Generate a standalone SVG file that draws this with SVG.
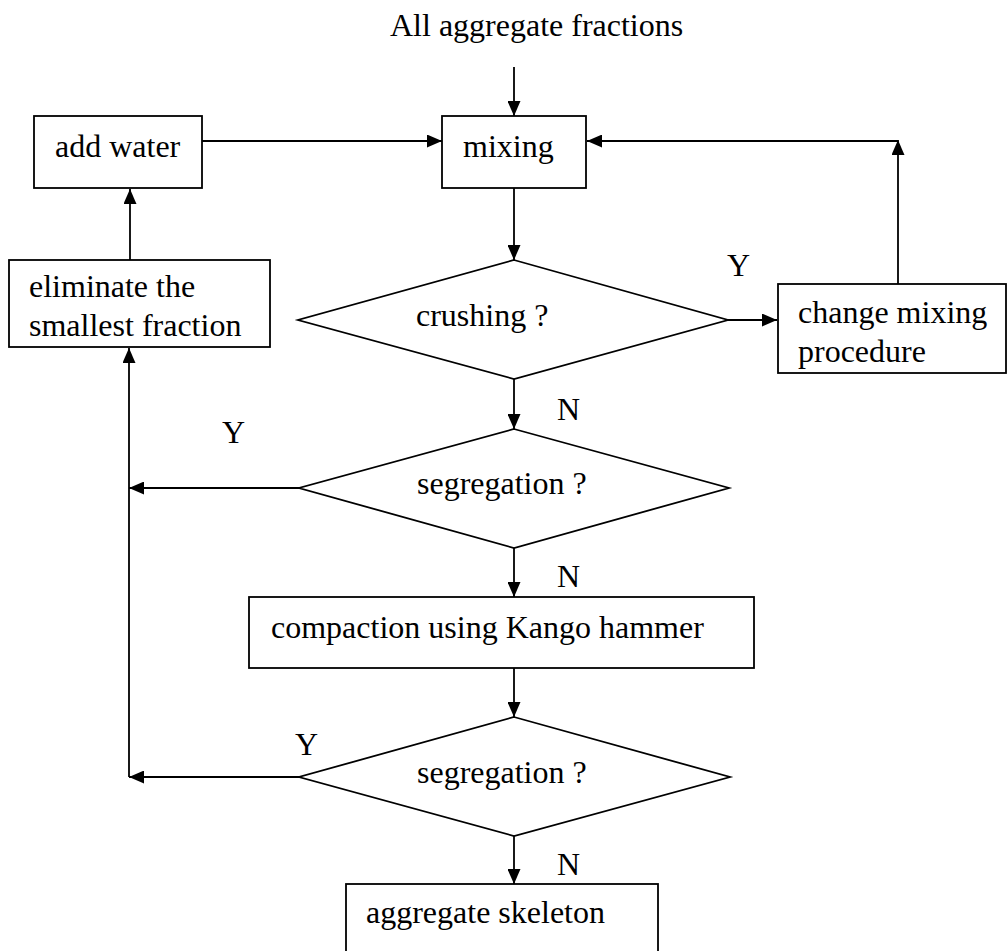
<svg xmlns="http://www.w3.org/2000/svg" width="1007" height="951" viewBox="0 0 1007 951">
  <defs>
    <style>
      .box { fill: #ffffff; stroke: #000000; stroke-width: 1.8; }
      .lbl { font-family: "Liberation Serif", "Times New Roman", serif; font-size: 32px; fill: #000000; }
      .wire { fill: none; stroke: #000000; stroke-width: 1.8; }
    </style>
    <marker id="arrow" viewBox="0 0 15 13" refX="15" refY="6.5" markerWidth="15" markerHeight="13" markerUnits="userSpaceOnUse" orient="auto">
      <path d="M0,0 L15,6.5 L0,13 Z" fill="#000000"/>
    </marker>
  </defs>

  <rect width="1007" height="951" fill="#ffffff"/>

  <!-- heading above the process -->
  <text class="lbl" x="390" y="36">All aggregate fractions</text>

  <!-- connectors -->
  <g id="connectors">
    <line class="wire" x1="514" y1="67" x2="514" y2="116" marker-end="url(#arrow)"/>
    <line class="wire" x1="202" y1="141" x2="442" y2="141" marker-end="url(#arrow)"/>
    <line class="wire" x1="898" y1="141" x2="587" y2="141" marker-end="url(#arrow)"/>
    <line class="wire" x1="898" y1="284" x2="898" y2="140" marker-end="url(#arrow)"/>
    <line class="wire" x1="514" y1="188" x2="514" y2="260" marker-end="url(#arrow)"/>
    <line class="wire" x1="728" y1="320" x2="777" y2="320" marker-end="url(#arrow)"/>
    <line class="wire" x1="130" y1="260" x2="130" y2="189" marker-end="url(#arrow)"/>
    <line class="wire" x1="514" y1="379" x2="514" y2="429" marker-end="url(#arrow)"/>
    <line class="wire" x1="299" y1="488" x2="129" y2="488" marker-end="url(#arrow)"/>
    <line class="wire" x1="129" y1="777" x2="129" y2="348" marker-end="url(#arrow)"/>
    <line class="wire" x1="514" y1="548" x2="514" y2="597" marker-end="url(#arrow)"/>
    <line class="wire" x1="514" y1="668" x2="514" y2="717" marker-end="url(#arrow)"/>
    <line class="wire" x1="299" y1="777" x2="129" y2="777" marker-end="url(#arrow)"/>
    <line class="wire" x1="514" y1="836" x2="514" y2="884" marker-end="url(#arrow)"/>
    <text class="lbl" x="727" y="276">Y</text>
    <text class="lbl" x="557" y="420">N</text>
    <text class="lbl" x="222" y="443">Y</text>
    <text class="lbl" x="557" y="587">N</text>
    <text class="lbl" x="295" y="755">Y</text>
    <text class="lbl" x="557" y="875">N</text>
  </g>

  <g id="add-water">
    <rect class="box" x="34" y="116" width="168" height="72"/>
    <text class="lbl" x="55" y="157">add water</text>
  </g>

  <g id="mixing">
    <rect class="box" x="442" y="116" width="144" height="72"/>
    <text class="lbl" x="463" y="157">mixing</text>
  </g>

  <g id="eliminate">
    <rect class="box" x="9" y="260" width="261" height="87"/>
    <text class="lbl" x="29" y="297">eliminate the</text>
    <text class="lbl" x="29" y="336">smallest fraction</text>
  </g>

  <g id="crushing">
    <polygon class="box" points="514,260 728,320 514,379 298,320"/>
    <text class="lbl" x="416" y="326">crushing ?</text>
  </g>

  <g id="change-mixing">
    <rect class="box" x="778" y="284" width="228" height="89"/>
    <text class="lbl" x="798" y="323">change mixing</text>
    <text class="lbl" x="798" y="362">procedure</text>
  </g>

  <g id="segregation-1">
    <polygon class="box" points="514,429 729,488 514,548 299,488"/>
    <text class="lbl" x="417" y="494">segregation ?</text>
  </g>

  <g id="compaction">
    <rect class="box" x="249" y="597" width="505" height="71"/>
    <text class="lbl" x="271" y="638">compaction using Kango hammer</text>
  </g>

  <g id="segregation-2">
    <polygon class="box" points="514,717 730,777 514,836 299,777"/>
    <text class="lbl" x="417" y="783">segregation ?</text>
  </g>

  <g id="skeleton">
    <rect class="box" x="346" y="884" width="312" height="80"/>
    <text class="lbl" x="366" y="923">aggregate skeleton</text>
  </g>
</svg>
